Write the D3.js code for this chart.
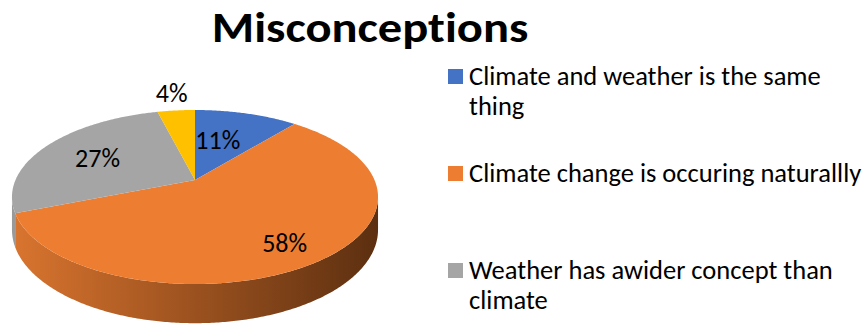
<!DOCTYPE html>
<html>
<head>
<meta charset="utf-8">
<script src="https://cdn.jsdelivr.net/npm/d3@7"></script>
<style>
  html, body { margin: 0; padding: 0; background: #fff; }
  svg { display: block; }
  text { font-family: Carlito, Calibri, "Open Sans", sans-serif; font-variant-ligatures: none; }
</style>
</head>
<body>
<svg id="chart" width="866" height="325"></svg>
<script>
// Survey answers: share of misconceptions
const categories = [
  "Climate and weather is the same thing",
  "Climate change is occuring naturallly",
  "Weather has awider concept than climate",
  "Other"
];
const values = [11, 58, 27, 4];
const colors = ["#4472C4", "#ED7D31", "#A5A5A5", "#FFC000"];
const title = "Misconceptions";

const W = 866, H = 325;
const svg = d3.select("#chart");

// Perspective view of a tilted disc: centre, horizontal/vertical radius,
// foreshortening factor k and extrusion depth.
const cx = 195, cy = 180, A = 179.5, B = 83.7, k = 0.1955, depth = 31.5;

function project(phi, r = 1, down = 0) {
  const w = 1 + k * r * Math.cos(phi);
  return [cx + A * r * Math.sin(phi) / w, cy - B * r * Math.cos(phi) / w + down / w];
}

const pie = d3.pie().sort(null).value(d => d).startAngle(0).endAngle(2 * Math.PI);
const arcs = pie(values);
const total = d3.sum(values);
const pct = d3.format(".0%");

const line = d3.line();
function rim(a0, a1, down) {
  const n = Math.max(2, Math.ceil(Math.abs(a1 - a0) / 0.01));
  return d3.range(n + 1).map(i => project(a0 + (a1 - a0) * i / n, 1, down));
}

// front wall is visible between the two silhouette angles
const phiRight = Math.acos(-k), phiLeft = 2 * Math.PI - Math.acos(-k);

const defs = svg.append("defs");
const sideStops = {
  1: ["#d9752f", "#b05d24", "#86461a", "#5c2f10"],
  2: ["#9a9a9a", "#808080", "#686868", "#505050"]
};
Object.entries(sideStops).forEach(([i, stops]) => {
  const g = defs.append("linearGradient")
    .attr("id", "side" + i).attr("gradientUnits", "userSpaceOnUse")
    .attr("x1", cx - A / Math.sqrt(1 - k * k)).attr("x2", cx + A / Math.sqrt(1 - k * k))
    .attr("y1", 0).attr("y2", 0);
  stops.forEach((c, j) => g.append("stop").attr("offset", j / (stops.length - 1)).attr("stop-color", c));
});

const sides = svg.append("g");
arcs.forEach((a, i) => {
  const s = Math.max(a.startAngle, phiRight), e = Math.min(a.endAngle, phiLeft);
  if (e <= s) return;
  const pts = rim(s, e, 0).concat(rim(e, s, depth));
  sides.append("path")
    .attr("d", line(pts) + "Z")
    .attr("fill", sideStops[i] ? `url(#side${i})` : colors[i]);
});

const tops = svg.append("g");
arcs.forEach((a, i) => {
  const pts = [project(0, 0)].concat(rim(a.startAngle, a.endAngle, 0));
  tops.append("path")
    .attr("d", line(pts) + "Z")
    .attr("fill", colors[i]);
});

// data labels
const labelRadius = [0.5, 0.8, 0.7, 1.3];
const labelNudge = [[-5, -3.5], [-7, 0.5], [8, 3], [0, -1]];
svg.append("g").selectAll("text")
  .data(arcs)
  .join("text")
  .attr("x", (d, i) => project((d.startAngle + d.endAngle) / 2, labelRadius[i])[0] + labelNudge[i][0])
  .attr("y", (d, i) => project((d.startAngle + d.endAngle) / 2, labelRadius[i])[1] + labelNudge[i][1])
  .attr("text-anchor", "middle")
  .attr("dominant-baseline", "central")
  .attr("font-size", 26)
  .attr("fill", "#000")
  .text(d => pct(d.value / total));

// title (set slightly wide)
svg.append("text")
  .attr("transform", "translate(370,42) scale(1.155,1)")
  .attr("text-anchor", "middle")
  .attr("font-size", 42).attr("font-weight", "bold")
  .attr("fill", "#000")
  .text(title);

// legend
const legendRows = [69, 166, 263];
const legendScale = 1.02;
const legend = svg.append("g");
const maxW = 400 / legendScale;
legendRows.forEach((top, i) => {
  legend.append("rect")
    .attr("x", 448).attr("y", top).attr("width", 15).attr("height", 15)
    .attr("fill", colors[i]);
  const t = legend.append("text")
    .attr("transform", `translate(469,${top + 16}) scale(${legendScale},1)`)
    .attr("font-size", 26).attr("fill", "#000");
  // greedy word wrap
  const words = categories[i].split(" ");
  let lineWords = [], tspan = t.append("tspan").attr("x", 0);
  words.forEach(w => {
    lineWords.push(w);
    tspan.text(lineWords.join(" "));
    if (tspan.node().getComputedTextLength() > maxW && lineWords.length > 1) {
      lineWords.pop();
      tspan.text(lineWords.join(" "));
      lineWords = [w];
      tspan = t.append("tspan").attr("x", 0).attr("dy", 30).text(w);
    }
  });
});
</script>
</body>
</html>
